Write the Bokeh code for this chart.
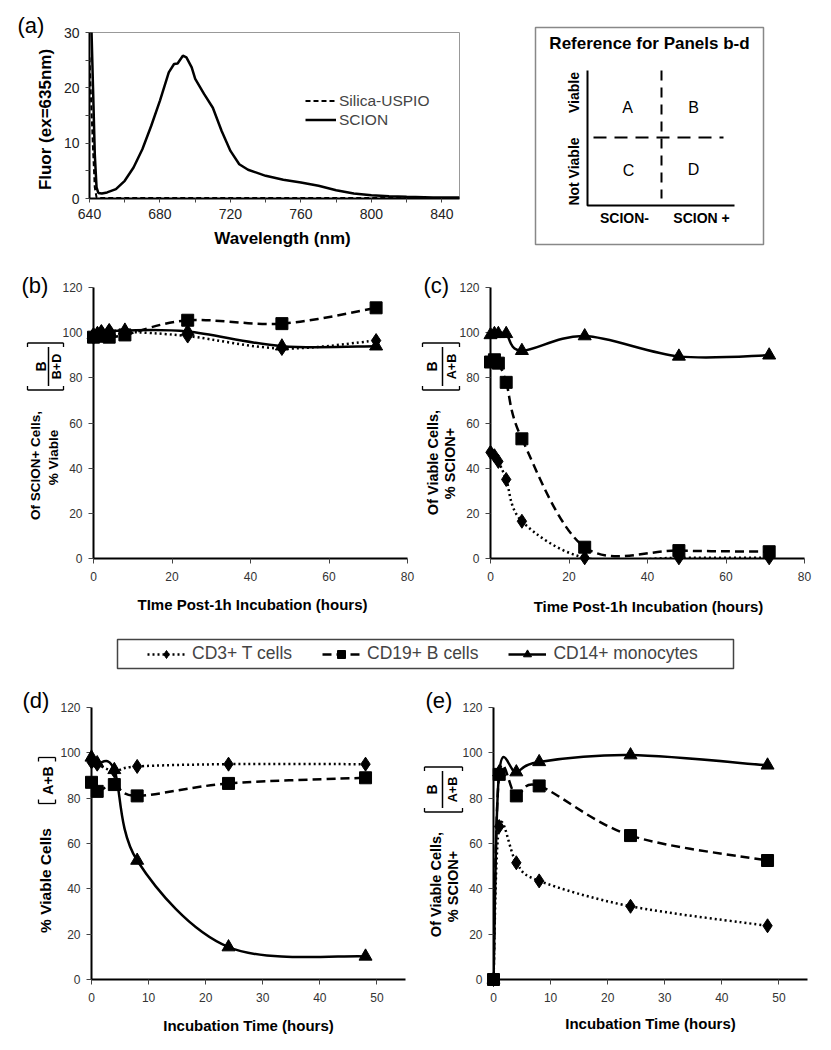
import math
from bokeh.plotting import figure
from bokeh.layouts import column, row
from bokeh.models import Range1d, FixedTicker, Legend, LegendItem
from bokeh.core.properties import value
from bokeh.embed import file_html
from bokeh.resources import INLINE

FONT = "Liberation Sans"
ROT = math.pi / 2

# ---------------- data ----------------
# (a) fluorescence spectra
wavelength = [640, 641, 642, 643, 644, 645, 647, 650, 655, 660, 665, 670, 675, 680, 685,
              688, 690, 693, 695, 698, 700, 705, 710, 715, 720, 725, 730, 740, 750, 760,
              770, 780, 790, 800, 810, 820, 835, 850]
scion_fluor = [60, 32, 20, 8, 2, 1.0, 0.9, 1.1, 1.7, 3.2, 5.6, 8.9, 13.1, 17.7, 22.8,
               24.3, 24.4, 25.8, 25.5, 23.7, 21.6, 18.9, 16.4, 12.2, 8.6, 6.2, 5.2, 4.1, 3.4, 2.9,
               2.3, 1.5, 0.9, 0.6, 0.4, 0.3, 0.2, 0.2]
silica_wavelength = [640, 641, 642, 643, 644, 646, 700, 760, 850]
silica_fluor = [25.5, 17, 9, 2, 0.2, 0.1, 0.1, 0.1, 0.1]

series_names = ["CD3+ T cells", "CD19+ B cells", "CD14+ monocytes"]

# (b) Of SCION+ cells, % viable
time_b = [0, 1, 2, 4, 8, 24, 48, 72]
b_cd3 = [98, 99.5, 100.5, 101, 100.5, 98.5, 93, 96.5]
b_cd19 = [98, 98.5, 98.5, 98, 99, 105.5, 104, 111]
b_cd14 = [99, 99.5, 100, 100.5, 101, 100.5, 94, 94]

# (c) Of viable cells, % SCION+
time_c = [0, 1, 2, 4, 8, 24, 48, 71]
c_cd3 = [47, 45.5, 43, 35, 16.5, 0.3, 0.3, 0.3]
c_cd19 = [87, 88, 86.5, 78, 53, 5, 3.5, 3]
c_cd14 = [99, 99.5, 99.5, 99.5, 92, 98.5, 89.5, 90]

# (d) % viable cells
time_d = [0, 1, 4, 8, 24, 48]
d_cd3 = [96, 95, 92, 94, 95, 95]
d_cd19 = [87, 83, 86, 81, 86.5, 89]
d_cd14 = [98, 95.5, 92.5, 52.5, 14.3, 10.2]

# (e) Of viable cells, % SCION+
time_e = [0, 1, 4, 8, 24, 48]
e_cd3 = [0, 67.5, 51.5, 43.5, 32.3, 23.7]
e_cd19 = [0, 90.5, 81, 85.4, 63.5, 52.5]
e_cd14 = [0, 91.5, 91.5, 96, 99, 94.5]

ticks_120 = [0, 20, 40, 60, 80, 100, 120]
ticks_80 = [0, 20, 40, 60, 80]
ticks_50 = [0, 10, 20, 30, 40, 50]

STYLES = [("diamond", "2 3", 14), ("square", "9 5", 12), ("triangle", "solid", 13)]


def smooth(xs, ys):
    n = len(xs)
    out = dict(x0=[], y0=[], x1=[], y1=[], cx0=[], cy0=[], cx1=[], cy1=[])
    for i in range(n - 1):
        a = max(i - 1, 0)
        d = min(i + 2, n - 1)
        out["x0"].append(xs[i]); out["y0"].append(ys[i])
        out["x1"].append(xs[i + 1]); out["y1"].append(ys[i + 1])
        out["cx0"].append(xs[i] + (xs[i + 1] - xs[a]) / 6)
        out["cy0"].append(ys[i] + (ys[i + 1] - ys[a]) / 6)
        out["cx1"].append(xs[i + 1] - (xs[d] - xs[i]) / 6)
        out["cy1"].append(ys[i + 1] - (ys[d] - ys[i]) / 6)
    return out


# frame boxes on the page: (left, top, width, height)
FRAMES = {}


def to_data(p, X, Y):
    left, top, w, h = FRAMES[id(p)]
    xr, yr = p.x_range, p.y_range
    x = xr.start + (X - left) * (xr.end - xr.start) / w
    y = yr.start + (top + h - Y) * (yr.end - yr.start) / h
    return x, y


def txt(p, X, Y, text, size, bold=False, angle=0.0, align="center", baseline="middle"):
    x, y = to_data(p, X, Y)
    p.text(x=[x], y=[y], text=[text], angle=angle, text_font=value(FONT),
           text_font_size=f"{size}px", text_font_style="bold" if bold else "normal",
           text_align=align, text_baseline=baseline, text_color="black", level="overlay")


def seg(p, X0, Y0, X1, Y1, w=1.3):
    x0, y0 = to_data(p, X0, Y0)
    x1, y1 = to_data(p, X1, Y1)
    p.segment(x0=[x0], y0=[y0], x1=[x1], y1=[y1], line_color="black", line_width=w,
              level="overlay")


def bracket(p, xl, xr, yc, half):
    for yy, s in ((yc - half, 1), (yc + half, -1)):
        seg(p, xl, yy, xr, yy)
        seg(p, xl, yy, xl, yy + s * 4)
        seg(p, xr, yy, xr, yy + s * 4)


def frac(p, xl, xr, yc, half, num, den, xn, xb, xd, size):
    bracket(p, xl, xr, yc, half)
    seg(p, xb, yc - half + 4, xb, yc + half - 4, w=1.5)
    txt(p, xn, yc, num, size, bold=True, angle=ROT)
    txt(p, xd, yc, den, size - 1.5, bold=True, angle=ROT)


def style_axis(ax, size="12px", color="#333", standoff=7, tick_out=5):
    ax.axis_line_width = 2
    ax.axis_line_color = "black"
    ax.major_tick_in = 0
    ax.major_tick_out = tick_out
    ax.major_tick_line_color = "#444"
    ax.minor_tick_in = 0
    ax.minor_tick_out = 4
    ax.minor_tick_line_color = "#444"
    ax.major_label_text_font = FONT
    ax.major_label_text_font_size = size
    ax.major_label_text_color = color
    ax.major_label_standoff = standoff


def make_panel(w, h, left, top, fw, fh, page_left, page_top, xmax, xticks):
    p = figure(width=w, height=h, x_range=Range1d(0, xmax), y_range=Range1d(0, 120),
               output_backend="svg", toolbar_location=None,
               min_border_left=left, min_border_right=w - left - fw,
               min_border_top=top, min_border_bottom=h - top - fh)
    p.grid.visible = False
    p.outline_line_color = None
    p.xaxis.ticker = FixedTicker(ticks=xticks, minor_ticks=[])
    p.yaxis.ticker = FixedTicker(ticks=ticks_120, minor_ticks=[])
    style_axis(p.xaxis[0], standoff=8)
    style_axis(p.yaxis[0], standoff=6)
    FRAMES[id(p)] = (page_left, page_top, fw, fh)
    return p


def draw_series(p, t, series):
    for vals, (marker, dash, size) in zip(series, STYLES):
        p.bezier(**smooth(t, vals), line_color="black", line_width=2.5, line_dash=dash)
    for vals, (marker, dash, size) in zip(series, STYLES):
        p.scatter(t, vals, marker=marker, size=size, color="black", level="overlay")


# ---------------- (a) ----------------
fa = figure(width=528, height=250, x_range=Range1d(640, 850), y_range=Range1d(0, 30),
            output_backend="svg", toolbar_location=None,
            min_border_left=89, min_border_right=69, min_border_top=32, min_border_bottom=52)
FRAMES[id(fa)] = (89, 32, 370, 166)
fa.grid.visible = False
fa.outline_line_color = "#999"
fa.xaxis.ticker = FixedTicker(ticks=[640, 680, 720, 760, 800, 840], minor_ticks=[660, 700, 740, 780, 820])
fa.yaxis.ticker = FixedTicker(ticks=[0, 10, 20, 30], minor_ticks=[5, 15, 25])
style_axis(fa.xaxis[0], size="14px", color="#222", standoff=6, tick_out=4)
style_axis(fa.yaxis[0], size="14px", color="#222", standoff=6, tick_out=4)
r_sil = fa.line(silica_wavelength, silica_fluor, line_color="black", line_width=2, line_dash="5 3")
r_sci = fa.line(wavelength, scion_fluor, line_color="black", line_width=2.5)
leg_a = Legend(items=[LegendItem(label="Silica-USPIO", renderers=[r_sil]),
                      LegendItem(label="SCION", renderers=[r_sci])],
               location=(216, 69), border_line_color=None, background_fill_alpha=0,
               glyph_width=31, glyph_height=19, label_height=19, label_standoff=3,
               spacing=0, padding=0, margin=0, label_text_font=FONT,
               label_text_font_size="15.5px")
fa.add_layout(leg_a)
txt(fa, 17, 25, "(a)", 22, align="left")
txt(fa, 45, 119, "Fluor (ex=635nm)", 17, bold=True, angle=ROT)
txt(fa, 282, 238, "Wavelength (nm)", 17, bold=True)

# ---------------- reference box (page pixel coordinates) ----------------
fr = figure(width=303, height=250, x_range=Range1d(528, 831), y_range=Range1d(198, 32),
            output_backend="svg", toolbar_location=None, x_axis_type=None, y_axis_type=None,
            min_border_left=0, min_border_right=0, min_border_top=32, min_border_bottom=52)
fr.grid.visible = False
fr.outline_line_color = None
fr.quad(left=[535], right=[763], top=[27], bottom=[244], fill_color=None,
        line_color="#888", line_width=1.5, level="overlay")
fr.line([587, 587, 734], [70, 205, 205], line_color="black", line_width=2, level="overlay")
fr.line([661, 661], [70, 198], line_color="black", line_width=2, line_dash="10 7", level="overlay")
fr.line([593, 723], [137, 137], line_color="black", line_width=2, line_dash="13 8", level="overlay")
fr.text(x=[649], y=[43], text=["Reference for Panels b-d"], text_font=value(FONT),
        text_font_style="bold", text_font_size="17px", text_align="center",
        text_baseline="middle", level="overlay")
fr.text(x=[627, 693, 628, 693], y=[107, 107, 170, 169], text=["A", "B", "C", "D"],
        text_font=value(FONT), text_font_size="16px", text_align="center",
        text_baseline="middle", level="overlay")
fr.text(x=[624, 701], y=[217, 217], text=["SCION-", "SCION +"], text_font=value(FONT),
        text_font_style="bold", text_font_size="14px", text_align="center",
        text_baseline="middle", level="overlay")
fr.text(x=[573, 573], y=[92, 171], text=["Viable", "Not Viable"], angle=ROT,
        text_font=value(FONT), text_font_style="bold", text_font_size="14px",
        text_align="center", text_baseline="middle", level="overlay")

# ---------------- (b) ----------------
fb = make_panel(418, 375, 93, 37, 314, 271, 93, 287, 80, ticks_80)
draw_series(fb, time_b, [b_cd3, b_cd19, b_cd14])
txt(fb, 21, 285, "(b)", 22, align="left")
txt(fb, 35, 465, "Of SCION+ Cells,", 13.5, bold=True, angle=ROT)
txt(fb, 53, 457, "% Viable", 13.5, bold=True, angle=ROT)
frac(fb, 27, 63, 366, 23.5, "B", "B+D", 40, 48, 56, 14)
txt(fb, 252, 604, "TIme Post-1h Incubation (hours)", 15, bold=True)

# ---------------- (c) ----------------
fc = make_panel(413, 375, 72, 37, 314, 271, 490, 287, 80, ticks_80)
draw_series(fc, time_c, [c_cd3, c_cd19, c_cd14])
txt(fc, 423, 285, "(c)", 22, align="left")
txt(fc, 432, 462, "Of Viable Cells,", 14.5, bold=True, angle=ROT)
txt(fc, 449, 463, "% SCION+", 14.5, bold=True, angle=ROT)
frac(fc, 422, 459, 366, 23.5, "B", "A+B", 431, 442, 451, 14)
txt(fc, 648, 606, "Time Post-1h Incubation (hours)", 15, bold=True)

# ---------------- legend row ----------------
fl = figure(width=831, height=55, x_range=Range1d(0, 831), y_range=Range1d(680, 625),
            output_backend="svg", toolbar_location=None, x_axis_type=None, y_axis_type=None,
            min_border=0)
fl.grid.visible = False
fl.outline_line_color = None
fl.quad(left=[117], right=[733], top=[639], bottom=[668], fill_color=None,
        line_color="#444", line_width=1.5, level="overlay")
items = []
for name, (marker, dash, size) in zip(series_names, STYLES):
    rl = fl.line([float("nan")], [float("nan")], line_color="black", line_width=2.5, line_dash=dash)
    rs = fl.scatter([float("nan")], [float("nan")], marker=marker, size=size, color="black")
    items.append(LegendItem(label=name, renderers=[rl, rs]))
leg = Legend(items=items, orientation="horizontal", location=(147, 16),
             border_line_color=None, background_fill_alpha=0,
             glyph_width=38, glyph_height=20, label_height=20, label_standoff=7,
             spacing=30, padding=0, margin=0, label_text_font=FONT,
             label_text_font_size="17.5px")
fl.add_layout(leg)

# ---------------- (d) ----------------
fd = make_panel(418, 370, 91, 27, 314, 272, 91, 707, 55, ticks_50)
draw_series(fd, time_d, [d_cd3, d_cd19, d_cd14])
txt(fd, 22, 700, "(d)", 22, align="left")
txt(fd, 45, 880, "% Viable Cells", 15.5, bold=True, angle=ROT)
bracket(fd, 38, 55, 780, 23)
txt(fd, 47, 780, "A+B", 14, bold=True, angle=ROT)
txt(fd, 248, 1025, "Incubation Time (hours)", 15, bold=True)

# ---------------- (e) ----------------
fe = make_panel(413, 370, 75, 27, 314, 272, 493, 707, 55, ticks_50)
draw_series(fe, time_e, [e_cd3, e_cd19, e_cd14])
txt(fe, 425, 700, "(e)", 22, align="left")
txt(fe, 435, 884, "Of Viable Cells,", 14.5, bold=True, angle=ROT)
txt(fe, 452, 886, "% SCION+", 14.5, bold=True, angle=ROT)
frac(fe, 424, 462, 789, 22.5, "B", "A+B", 431, 442, 452, 14)
txt(fe, 650, 1023, "Incubation Time (hours)", 15, bold=True)

layout = column(row(fa, fr), row(fb, fc), fl, row(fd, fe))
open("out.html", "w").write(file_html(layout, INLINE))
